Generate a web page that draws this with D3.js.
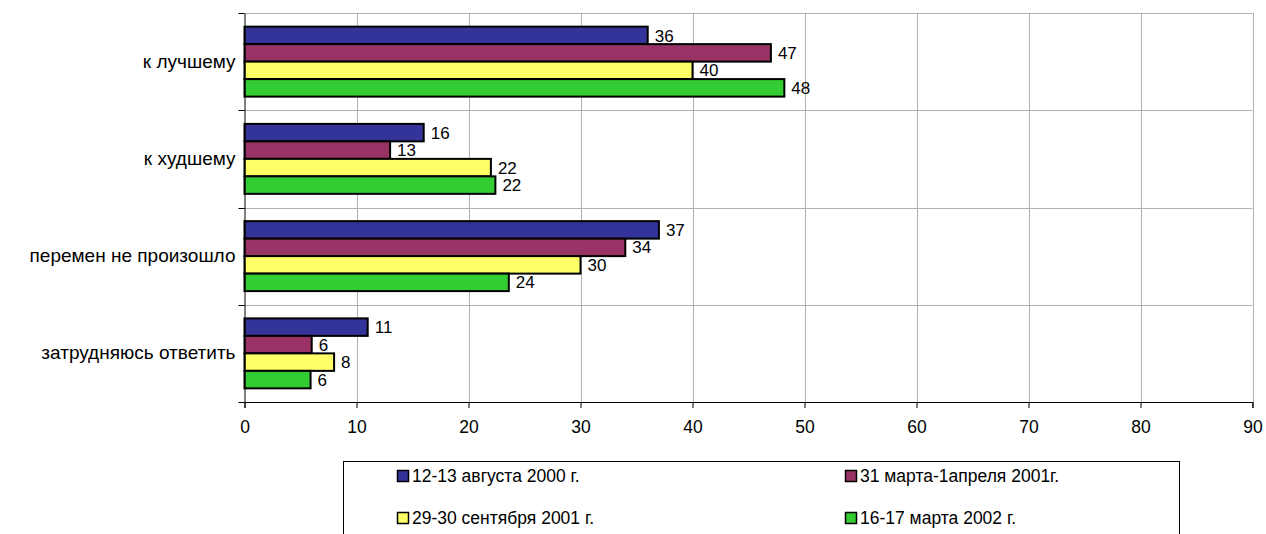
<!DOCTYPE html>
<html>
<head>
<meta charset="utf-8">
<script src="https://cdn.jsdelivr.net/npm/d3@7/dist/d3.min.js"></script>
<style>
html,body{margin:0;padding:0;background:#fff;}
svg{display:block;font-family:"Liberation Sans",Arial,sans-serif;}
</style>
</head>
<body>
<svg id="chart" width="1266" height="534"></svg>
<script>
const categories = ["к лучшему", "к худшему", "перемен не произошло", "затрудняюсь ответить"];
const seriesNames = ["12-13 августа 2000 г.", "31 марта-1апреля 2001г.", "29-30 сентября 2001 г.", "16-17 марта 2002 г."];
const seriesColors = ["#333399", "#993366", "#FFFF66", "#33CC33"];
const aug2000 = [36, 16, 37, 11];
const mar2001 = [47, 13, 34, 6];
const sep2001 = [40, 22, 30, 8];
const mar2002 = [48.2, 22.4, 23.6, 5.9];
const xTicks = [0, 10, 20, 30, 40, 50, 60, 70, 80, 90];

const seriesValues = [aug2000, mar2001, sep2001, mar2002];

const svg = d3.select("#chart");
const pLeft = 244.5, pRight = 1252.5, pTop = 13, pBottom = 402;

const x = d3.scaleLinear().domain([0, 90]).range([pLeft, pRight]);
const y = d3.scaleBand().domain(categories).range([pTop, pBottom]).paddingInner(0).paddingOuter(0);
const ys = d3.scaleBand().domain(seriesNames).range([0, y.bandwidth()]).paddingInner(0).paddingOuter(0.78);

// gridlines
const grid = svg.append("g");
grid.selectAll("line.v").data(xTicks.slice(1)).join("line")
  .attr("x1", d => Math.round(x(d)) + 0.5).attr("x2", d => Math.round(x(d)) + 0.5)
  .attr("y1", pTop).attr("y2", pBottom)
  .attr("stroke", "#b0b0b0").attr("stroke-width", 1);
const bounds = categories.map(c => y(c));
grid.selectAll("line.h").data(bounds).join("line")
  .attr("x1", pLeft).attr("x2", pRight)
  .attr("y1", d => Math.round(d) + 0.5).attr("y2", d => Math.round(d) + 0.5)
  .attr("stroke", "#b0b0b0").attr("stroke-width", 1);

// bars
const data = [];
categories.forEach((c, i) => {
  seriesNames.forEach((s, j) => {
    data.push({cat: c, ser: s, v: seriesValues[j][i], color: seriesColors[j]});
  });
});
const bars = svg.append("g");
bars.selectAll("rect").data(data).join("rect")
  .attr("x", x(0))
  .attr("y", d => y(d.cat) + ys(d.ser))
  .attr("width", d => x(d.v) - x(0))
  .attr("height", ys.bandwidth())
  .attr("fill", d => d.color)
  .attr("stroke", "#000").attr("stroke-width", 2);

// labels
bars.selectAll("text").data(data).join("text")
  .attr("x", d => x(d.v) + 7)
  .attr("y", d => y(d.cat) + ys(d.ser) + ys.bandwidth() / 2)
  .attr("dy", "0.36em")
  .attr("font-size", 17)
  .attr("fill", "#000")
  .text(d => Math.round(d.v));

// x axis
const xAxis = svg.append("g").attr("transform", `translate(0,${pBottom})`)
  .call(d3.axisBottom(x).tickValues(xTicks).tickSize(6).tickPadding(13).tickFormat(d3.format("d")));
xAxis.select(".domain").attr("stroke", "#000");
xAxis.selectAll(".tick line").attr("stroke", "#000");
xAxis.selectAll("text").attr("font-size", 17.5).attr("font-family", "Liberation Sans, Arial, sans-serif").attr("fill", "#000");

// y axis
const yAxis = svg.append("g").attr("transform", `translate(${pLeft},0)`)
  .call(d3.axisLeft(y).tickSize(0).tickPadding(9));
yAxis.select(".domain").attr("stroke", "#000");
yAxis.selectAll("text").attr("font-size", 19).attr("font-family", "Liberation Sans, Arial, sans-serif").attr("fill", "#000");
svg.append("g").selectAll("line").data(bounds.concat([pBottom])).join("line")
  .attr("x1", pLeft - 6).attr("x2", pLeft)
  .attr("y1", d => Math.round(d) + 0.5).attr("y2", d => Math.round(d) + 0.5)
  .attr("stroke", "#000");

// legend
const lg = svg.append("g");
lg.append("rect").attr("x", 343.5).attr("y", 461.5).attr("width", 836).attr("height", 100)
  .attr("fill", "none").attr("stroke", "#000").attr("stroke-width", 1);
const lgPos = [[397, 476], [845, 476], [397, 518], [845, 518]];
seriesNames.forEach((s, j) => {
  const [lx, ly] = lgPos[j];
  lg.append("rect").attr("x", lx + 0.5).attr("y", ly - 5.5).attr("width", 11).attr("height", 11)
    .attr("fill", seriesColors[j]).attr("stroke", "#000").attr("stroke-width", 1.5);
  lg.append("text").attr("x", lx + 15).attr("y", ly).attr("dy", "0.36em")
    .attr("font-size", 17.5).attr("fill", "#000").text(s);
});
</script>
</body>
</html>
